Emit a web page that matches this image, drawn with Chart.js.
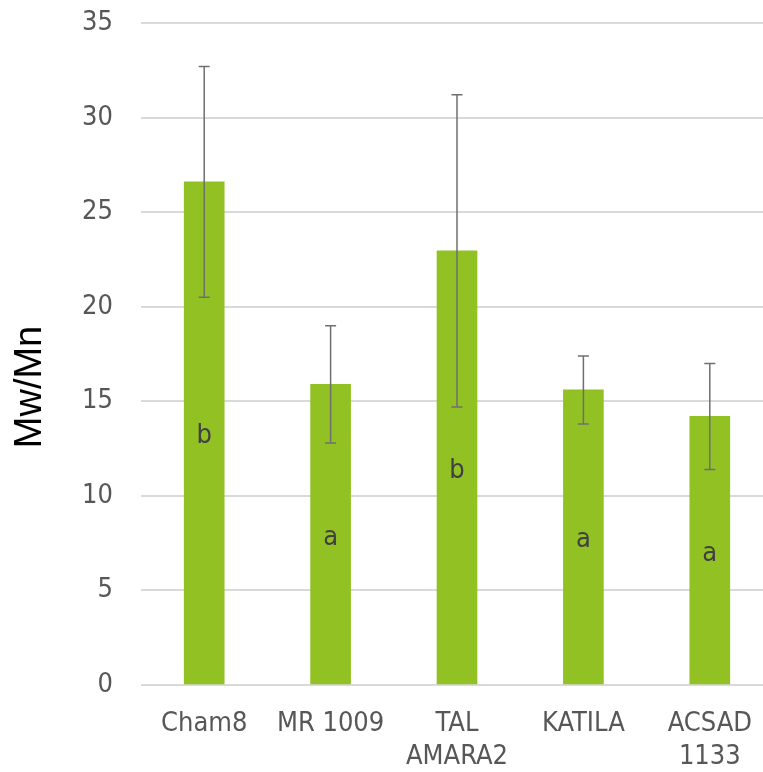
<!DOCTYPE html>
<html>
<head>
<meta charset="utf-8">
<script src="https://cdn.jsdelivr.net/npm/chart.js@4/dist/chart.umd.min.js"></script>
<style>
  html, body { margin: 0; padding: 0; background: #fff; overflow: hidden; }
  #wrap { width: 773px; height: 772px; }
</style>
</head>
<body>
<div id="wrap"><canvas id="ratioChart"></canvas></div>
<script>
// cultivars on the x axis
const varieties = ['Cham8', 'MR 1009', ['TAL', 'AMARA2'], 'KATILA', ['ACSAD', '1133']];
// mean Mw/Mn
const ratios = [26.6, 15.9, 22.95, 15.6, 14.2];
// error (+/-)
const errors = [6.1, 3.1, 8.25, 1.8, 2.8];
// letters of significance
const groups = ['b', 'a', 'b', 'a', 'a'];
const yTicks = [0, 5, 10, 15, 20, 25, 30, 35];
const yTitle = 'Mw/Mn';

const labelFont = '"DejaVu Sans Condensed", "DejaVu Sans", sans-serif';

// draws error bars, letters and the axis title
const extras = {
  id: 'extras',
  afterDatasetsDraw(chart) {
    const ctx = chart.ctx;
    const y = chart.scales.y;
    const meta = chart.getDatasetMeta(0);
    ctx.save();
    meta.data.forEach((bar, i) => {
      const top = y.getPixelForValue(ratios[i] + errors[i]);
      const bot = y.getPixelForValue(ratios[i] - errors[i]);
      ctx.strokeStyle = '#6f6f6f';
      ctx.lineWidth = 1.5;
      ctx.beginPath();
      ctx.moveTo(bar.x, top); ctx.lineTo(bar.x, bot);
      ctx.moveTo(bar.x - 5.5, top); ctx.lineTo(bar.x + 5.5, top);
      ctx.moveTo(bar.x - 5.5, bot); ctx.lineTo(bar.x + 5.5, bot);
      ctx.stroke();

      ctx.fillStyle = '#404040';
      ctx.font = '27px ' + labelFont;
      ctx.textAlign = 'center';
      ctx.textBaseline = 'middle';
      ctx.fillText(groups[i], bar.x, y.getPixelForValue(ratios[i] / 2) + 3);
    });

    // y title sits a bit below the middle of the axis, as in the original
    ctx.translate(31, 387);
    ctx.rotate(-Math.PI / 2);
    ctx.fillStyle = '#000';
    ctx.font = '38px "Liberation Sans", Arial, sans-serif';
    ctx.textAlign = 'center';
    ctx.textBaseline = 'middle';
    ctx.fillText(yTitle, 0, 0);
    ctx.restore();
  }
};

new Chart(document.getElementById('ratioChart'), {
  type: 'bar',
  data: {
    labels: varieties,
    datasets: [{
      data: ratios,
      backgroundColor: '#92c124',
      barThickness: 40
    }]
  },
  options: {
    responsive: true,
    maintainAspectRatio: false,
    animation: false,
    layout: { padding: { top: 23, left: 0, right: 0, bottom: 0 } },
    plugins: { legend: { display: false }, tooltip: { enabled: false } },
    scales: {
      x: {
        grid: { display: false, drawTicks: false },
        border: { display: false },
        ticks: {
          color: '#575757',
          padding: 23,
          maxRotation: 0,
          autoSkip: false,
          font: { family: labelFont, size: 27, lineHeight: 1.22 }
        },
        afterFit(scale) {
          scale.height = 87;
          scale.paddingLeft = 0;
          scale.paddingRight = 0;
        }
      },
      y: {
        min: 0,
        max: 35,
        afterBuildTicks(scale) { scale.ticks = yTicks.map(v => ({ value: v })); },
        grid: { color: '#d9d9d9', lineWidth: 2, drawTicks: false },
        border: { display: false },
        ticks: {
          color: '#575757',
          padding: 28,
          font: { family: labelFont, size: 27 }
        },
        afterFit(scale) {
          scale.width = 141;
          scale.paddingTop = 0;
          scale.paddingBottom = 0;
        }
      }
    }
  },
  plugins: [extras]
});
</script>
</body>
</html>
